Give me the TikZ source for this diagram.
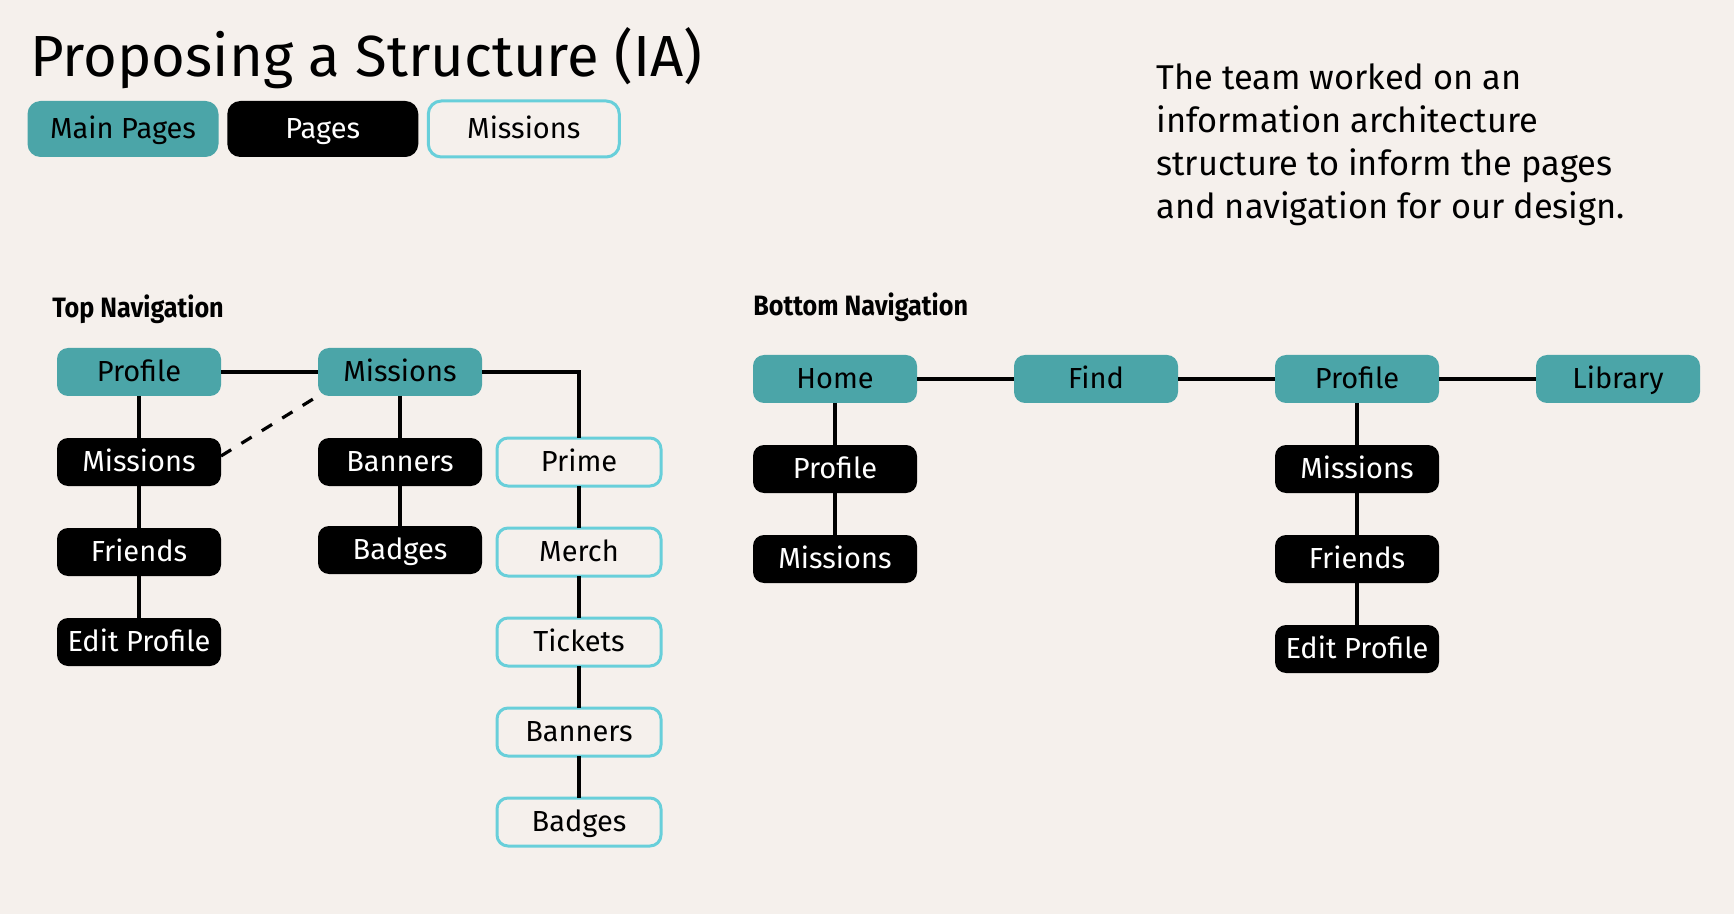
\documentclass[tikz,border=0pt]{standalone}
\usepackage{fontspec}
\setmainfont{Fira Sans}
\newfontfamily\headfont[FakeStretch=0.9]{Fira Sans}
\usetikzlibrary{positioning}
\definecolor{paper}{HTML}{F5F0EC}
\definecolor{mainteal}{HTML}{4BA5A8}
\definecolor{missioncyan}{HTML}{68CFDA}
\tikzstyle{line} = [draw, line width=1.6pt]
\pgfdeclarelayer{background}
\pgfsetlayers{background,main}

\begin{document}
\begin{tikzpicture}[
    x=0.5pt, y=-0.5pt,
    box/.style={
      rounded corners=5.5pt,
      minimum width=82pt,
      minimum height=24pt,
      outer sep=0pt,
      text height=11.5pt,
      text depth=2pt,
      font=\fontsize{14.5}{17}\selectfont
    },
    mainpage/.style={
      box,
      fill=mainteal,
      text=black
    },
    page/.style={
      box,
      fill=black,
      text=white
    },
    mission/.style={
      box,
      draw=missioncyan,
      line width=1.5pt,
      fill=paper,
      text=black
    },
    legend/.style={
      minimum width=95.5pt,
      minimum height=28pt,
      rounded corners=6.5pt
    },
    heading/.style={
      anchor=base west,
      inner sep=0pt,
      font=\headfont\bfseries\fontsize{14}{16}\selectfont
    }
  ]

  \node[anchor=base west,inner sep=0pt,font=\fontsize{29}{35}\selectfont] (title) at (30,77) {Proposing a Structure (IA)};

  \node[mainpage,legend] (keymain) at (123,129) {Main Pages};
  \node[page,legend,right=4.4pt of keymain] (keypages) {Pages};
  \node[mission,legend,right=5pt of keypages] (keymissions) {Missions};

  \node[anchor=north west,align=left,inner sep=0pt,font=\fontsize{17.2}{21.5}\selectfont] (blurb) at (1156,63) {The team worked on an\\information architecture\\structure to inform the pages\\and navigation for our design.};

  % top navigation
  \node[heading] (toplabel) at (52,318) {Top Navigation};

  \node[mainpage] (tprofile) at (139,372) {Profile};
  \node[mainpage,right=48.5pt of tprofile] (tmissions) {Missions};

  \node[page,below=21pt of tprofile] (tpmissions) {Missions};
  \node[page,below=21pt of tpmissions] (tfriends) {Friends};
  \node[page,below=21pt of tfriends] (tedit) {Edit Profile};

  \node[page,below=21pt of tmissions] (tbanners) {Banners};
  \node[page,below=20pt of tbanners] (tbadges) {Badges};

  \node[mission,right=7.5pt of tbanners] (prime) {Prime};
  \node[mission,below=21pt of prime] (merch) {Merch};
  \node[mission,below=21pt of merch] (tickets) {Tickets};
  \node[mission,below=21pt of tickets] (mbanners) {Banners};
  \node[mission,below=21pt of mbanners] (mbadges) {Badges};

  \draw[line] (tprofile) -- (tmissions);
  \draw[line] (tmissions) -| (prime);
  \draw[line] (tprofile) -- (tpmissions) -- (tfriends) -- (tedit);
  \draw[line] (tmissions) -- (tbanners) -- (tbadges);
  \draw[line] (prime) -- (merch) -- (tickets) -- (mbanners) -- (mbadges);
  \draw[line,dash pattern=on 6pt off 6pt] ([yshift=3pt]tpmissions.east) -- (tmissions.south west);

  % bottom navigation
  \node[heading] (botlabel) at (753,316) {Bottom Navigation};

  \node[mainpage] (home) at (835,379) {Home};
  \node[mainpage,right=48.5pt of home] (find) {Find};
  \node[mainpage,right=48.5pt of find] (bprofile) {Profile};
  \node[mainpage,right=48.5pt of bprofile] (library) {Library};

  \node[page,below=21pt of home] (hprofile) {Profile};
  \node[page,below=21pt of hprofile] (hmissions) {Missions};

  \node[page,below=21pt of bprofile] (bmissions) {Missions};
  \node[page,below=21pt of bmissions] (bfriends) {Friends};
  \node[page,below=21pt of bfriends] (bedit) {Edit Profile};

  \draw[line] (home) -- (find) -- (bprofile) -- (library);
  \draw[line] (home) -- (hprofile) -- (hmissions);
  \draw[line] (bprofile) -- (bmissions) -- (bfriends) -- (bedit);

  \begin{pgfonlayer}{background}
    \fill[paper] (0,0) rectangle (1734,914);
  \end{pgfonlayer}

\end{tikzpicture}
\end{document}
